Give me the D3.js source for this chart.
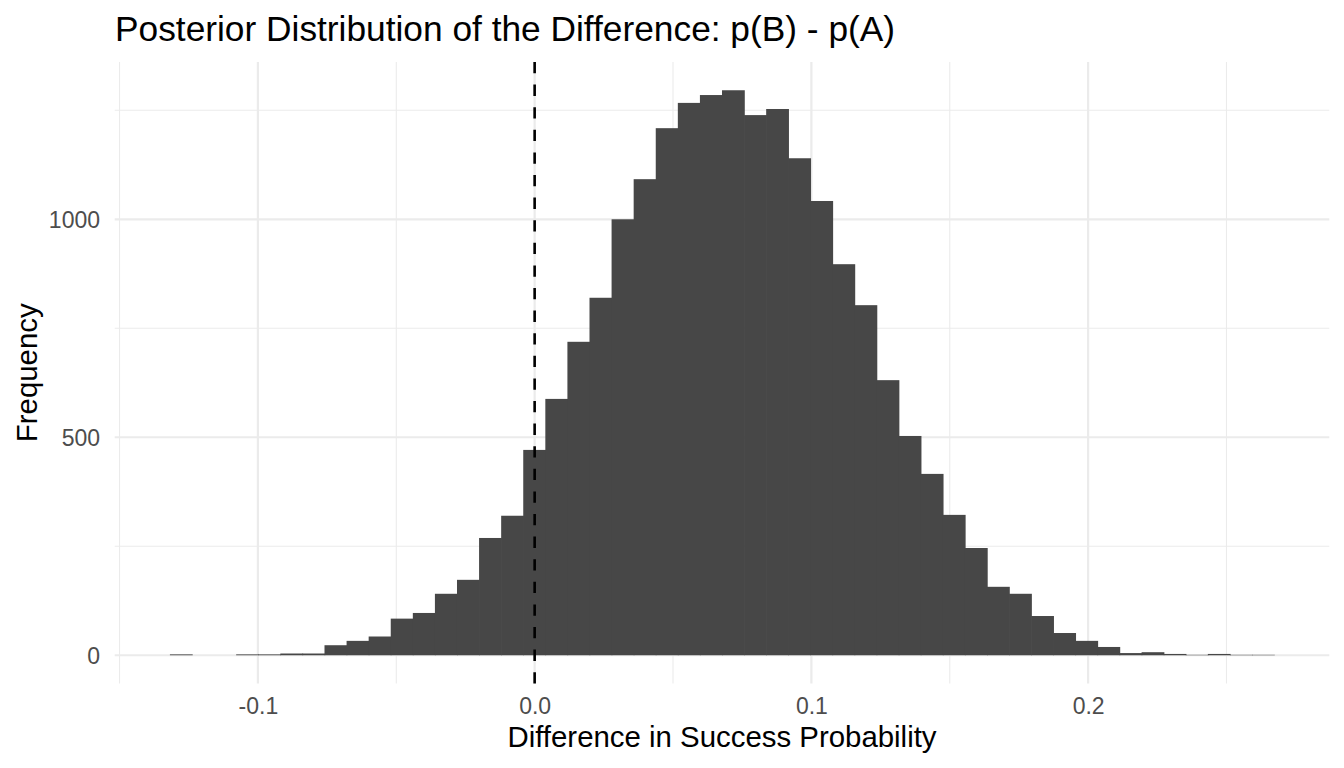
<!DOCTYPE html>
<html>
<head>
<meta charset="utf-8">
<script src="https://cdn.jsdelivr.net/npm/d3@7"></script>
<style>
  html, body { margin: 0; padding: 0; background: #ffffff; }
  svg { display: block; font-family: "Liberation Sans", Arial, Helvetica, sans-serif; }
</style>
</head>
<body>
<svg id="chart" width="1344" height="768"></svg>
<script>
// ---- data ----
const binStart = -0.1318;   // left edge of first bin
const binWidth = 0.00798;   // width of each bin
const counts = [
  2, 0, 0, 2, 2, 4, 4, 23, 33, 43,
  84, 97, 141, 173, 269, 320, 471, 588, 719, 820,
  1000, 1092, 1209, 1267, 1285, 1296, 1239, 1253, 1140, 1042,
  897, 803, 631, 503, 416, 322, 246, 157, 141, 90,
  51, 33, 19, 5, 7, 3, 1, 3, 1, 1
];
const xMajorTicks = [-0.1, 0.0, 0.1, 0.2];
const xMinorTicks = [-0.15, -0.05, 0.05, 0.15, 0.25];
const yMajorTicks = [0, 500, 1000];
const yMinorTicks = [250, 750, 1250];
const refLine = 0;
const titleText = "Posterior Distribution of the Difference: p(B) - p(A)";
const xLabel = "Difference in Success Probability";
const yLabel = "Frequency";

// ---- layout ----
const W = 1344, H = 768;
const panel = { left: 114.7, right: 1329.3, top: 62, bottom: 683.5 };

const bins = counts.map((c, i) => ({ x0: binStart + i * binWidth, x1: binStart + (i + 1) * binWidth, n: c }));
const xmin = bins[0].x0, xmax = bins[bins.length - 1].x1;
const xpad = (xmax - xmin) * 0.05;
const ymax = d3.max(counts);
const ypad = ymax * 0.05;

const x = d3.scaleLinear().domain([xmin - xpad, xmax + xpad]).range([panel.left, panel.right]);
const y = d3.scaleLinear().domain([-ypad, ymax + ypad]).range([panel.bottom, panel.top]);

const svg = d3.select("#chart");
svg.append("rect").attr("width", W).attr("height", H).attr("fill", "#ffffff");

const grid = svg.append("g");
// minor grid
grid.selectAll(".ymin").data(yMinorTicks).join("line")
  .attr("x1", panel.left).attr("x2", panel.right)
  .attr("y1", d => y(d)).attr("y2", d => y(d))
  .attr("stroke", "#EBEBEB").attr("stroke-width", 1.1);
grid.selectAll(".xmin").data(xMinorTicks).join("line")
  .attr("y1", panel.top).attr("y2", panel.bottom)
  .attr("x1", d => x(d)).attr("x2", d => x(d))
  .attr("stroke", "#EBEBEB").attr("stroke-width", 1.1);
// major grid
grid.selectAll(".ymaj").data(yMajorTicks).join("line")
  .attr("x1", panel.left).attr("x2", panel.right)
  .attr("y1", d => y(d)).attr("y2", d => y(d))
  .attr("stroke", "#EBEBEB").attr("stroke-width", 2.2);
grid.selectAll(".xmaj").data(xMajorTicks).join("line")
  .attr("y1", panel.top).attr("y2", panel.bottom)
  .attr("x1", d => x(d)).attr("x2", d => x(d))
  .attr("stroke", "#EBEBEB").attr("stroke-width", 2.2);

// bars (slight overlap to avoid anti-aliasing seams)
svg.append("g")
  .selectAll("rect").data(bins).join("rect")
  .attr("x", d => x(d.x0))
  .attr("width", d => x(d.x1) - x(d.x0) + 0.7)
  .attr("y", d => y(d.n))
  .attr("height", d => y(0) - y(d.n))
  .attr("fill", "#474747");

// dashed reference line (drawn bottom to top)
svg.append("line")
  .attr("x1", x(refLine)).attr("x2", x(refLine))
  .attr("y1", panel.bottom).attr("y2", panel.top)
  .attr("stroke", "#000000").attr("stroke-width", 2.6)
  .attr("stroke-dasharray", "11.3 11.3");

// axes (text only, theme_minimal style)
const fmtX = d => d3.format(".1f")(d).replace("\u2212", "-");
const xAxis = d3.axisBottom(x).tickValues(xMajorTicks).tickFormat(fmtX).tickSize(0);
const gx = svg.append("g").attr("transform", `translate(0,${panel.bottom})`).call(xAxis);
gx.select(".domain").remove();
gx.selectAll("text").attr("font-size", 23).attr("fill", "#4D4D4D")
  .attr("font-family", "Liberation Sans, Arial, sans-serif")
  .attr("dy", null).attr("y", 30.5);

const yAxis = d3.axisLeft(y).tickValues(yMajorTicks).tickFormat(d3.format("d")).tickSize(0);
const gy = svg.append("g").attr("transform", `translate(${panel.left},0)`).call(yAxis);
gy.select(".domain").remove();
gy.selectAll("text").attr("font-size", 23).attr("fill", "#4D4D4D")
  .attr("font-family", "Liberation Sans, Arial, sans-serif")
  .attr("x", -14.7).attr("dy", "0.35em");

// titles
svg.append("text").attr("x", 115).attr("y", 41)
  .attr("font-size", 35.3).attr("fill", "#000000").text(titleText);
svg.append("text").attr("x", (panel.left + panel.right) / 2).attr("y", 747)
  .attr("text-anchor", "middle").attr("font-size", 29.4).attr("fill", "#000000").text(xLabel);
svg.append("text").attr("transform", `translate(37,${(panel.top + panel.bottom) / 2}) rotate(-90)`)
  .attr("text-anchor", "middle").attr("font-size", 29.4).attr("fill", "#000000").text(yLabel);
</script>
</body>
</html>
